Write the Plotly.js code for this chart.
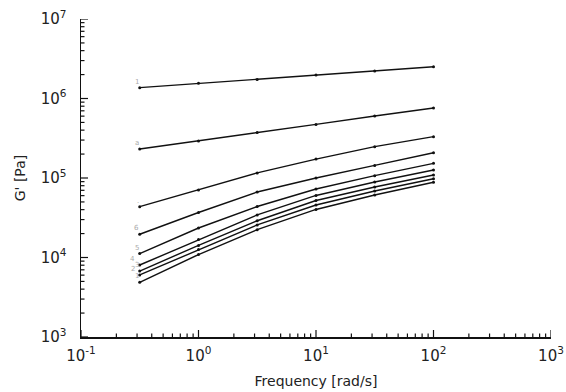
<!DOCTYPE html>
<html>
<head>
<meta charset="utf-8">
<script src="https://cdn.plot.ly/plotly-3.0.1.min.js"></script>
<style>html,body{margin:0;padding:0;background:#fff;}#chart{width:566px;height:392px;}</style>
</head>
<body>
<div id="chart"></div>
<script>
// Frequency (rad/s)
const freq = [0.316, 1, 3.16, 10, 31.6, 100];
// Storage modulus G' (Pa) for each curve, top to bottom
const curve9 = [1.37e6, 1.55e6, 1.73e6, 1.98e6, 2.22e6, 2.51e6];
const curve8 = [2.32e5, 2.92e5, 3.73e5, 4.72e5, 6.02e5, 7.6e5];
const curve7 = [4.36e4, 7.06e4, 1.16e5, 1.73e5, 2.48e5, 3.31e5];
const curve6 = [1.96e4, 3.68e4, 6.67e4, 1.0e5, 1.44e5, 2.08e5];
const curve5 = [1.12e4, 2.35e4, 4.38e4, 7.27e4, 1.07e5, 1.53e5];
const curve4 = [8.05e3, 1.68e4, 3.43e4, 6.03e4, 8.91e4, 1.26e5];
const curve3 = [6.76e3, 1.42e4, 2.90e4, 5.21e4, 7.71e4, 1.09e5];
const curve2 = [6.03e3, 1.26e4, 2.57e4, 4.57e4, 6.86e4, 9.80e4];
const curve1 = [4.88e3, 1.09e4, 2.24e4, 4.02e4, 6.11e4, 8.83e4];
const curves = [curve9, curve8, curve7, curve6, curve5, curve4, curve3, curve2, curve1];
const curveLabels = ['1', 'a', '.', '6', '5', '4', '3', '2', '1'];

const xTickVals = [0.1, 1, 10, 100, 1000];
const xTickText = ['10<sup>-1</sup>', '10<sup>0</sup>', '10<sup>1</sup>', '10<sup>2</sup>', '10<sup>3</sup>'];
const yTickVals = [1e3, 1e4, 1e5, 1e6, 1e7];
const yTickText = ['10<sup>3</sup>', '10<sup>4</sup>', '10<sup>5</sup>', '10<sup>6</sup>', '10<sup>7</sup>'];

function minorVals(lo, hi) {
  const out = [];
  for (let e = lo; e < hi; e++) for (let m = 2; m <= 9; m++) out.push(m * Math.pow(10, e));
  return out;
}

const traces = curves.map(c => ({
  x: freq, y: c, type: 'scatter', mode: 'lines+markers',
  line: {color: '#111', width: 1.4},
  marker: {color: '#111', size: 3},
  showlegend: false, hoverinfo: 'skip'
}));

const labelShift = [0, 0, 0, 0, 0, -4, 0, -4, 0];
const annotations = curves.map((c, i) => ({
  x: Math.log10(freq[0]), y: Math.log10(c[0]), xref: 'x', yref: 'y',
  text: curveLabels[i], showarrow: false, xanchor: 'right', yanchor: 'bottom',
  xshift: 1 + labelShift[i], yshift: 0,
  font: {family: 'DejaVu Sans', size: 7, color: '#aaa'}
}));

// tick marks drawn inward as shapes (shape coords on log axes are data values here)
const tickLine = {color: '#111', width: 1.2};
const shapes = [];
function xTick(v, len) {
  shapes.push({type: 'line', xref: 'x', yref: 'paper', ysizemode: 'pixel', yanchor: 0,
    x0: v, x1: v, y0: 0, y1: len, line: tickLine, layer: 'above'});
}
function yTick(v, len) {
  shapes.push({type: 'line', xref: 'paper', yref: 'y', xsizemode: 'pixel', xanchor: 0,
    y0: v, y1: v, x0: 0, x1: len, line: tickLine, layer: 'above'});
}
xTickVals.forEach(v => xTick(v, 7));
minorVals(-1, 3).forEach(v => xTick(v, 3.5));
yTickVals.forEach(v => yTick(v, 7));
minorVals(3, 7).forEach(v => yTick(v, 3.5));

const fontFam = 'DejaVu Sans, sans-serif';
const axisCommon = {
  showgrid: false, zeroline: false,
  showline: true, linecolor: '#111', linewidth: 1.5,
  ticks: '', tickfont: {family: fontFam, size: 15, color: '#222'}
};
const layout = {
  width: 566, height: 392,
  margin: {l: 81, r: 15, t: 19, b: 55},
  paper_bgcolor: '#fff', plot_bgcolor: '#fff',
  font: {family: fontFam, color: '#222', size: 14},
  xaxis: Object.assign({}, axisCommon, {
    type: 'log', range: [-1, 3],
    tickmode: 'array', tickvals: xTickVals, ticktext: xTickText,
    ticklabelstandoff: 4,
    title: {text: 'Frequency [rad/s]', font: {family: fontFam, size: 14, color: '#222'}, standoff: 12}
  }),
  yaxis: Object.assign({}, axisCommon, {
    type: 'log', range: [3, 7],
    tickmode: 'array', tickvals: yTickVals, ticktext: yTickText,
    ticklabelstandoff: 10,
    title: {text: "G' [Pa]", font: {family: fontFam, size: 14, color: '#222'}, standoff: 12}
  }),
  shapes: shapes,
  annotations: annotations
};

Plotly.newPlot('chart', traces, layout, {staticPlot: true, displayModeBar: false});
</script>
</body>
</html>
